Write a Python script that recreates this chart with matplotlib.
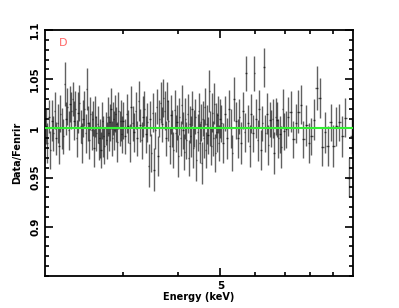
import numpy as np
import matplotlib.pyplot as plt
from matplotlib.ticker import FixedLocator, NullFormatter, FixedFormatter, MultipleLocator

# ============================================================
# DATA (ratio data / Fenrir model, grouped bins)
# ============================================================
# 2 - 3 keV
energy_a = [2.008, 2.024, 2.040, 2.056, 2.072, 2.088, 2.104, 2.120, 2.136, 2.152,
            2.168, 2.184, 2.200, 2.216, 2.232, 2.248, 2.264, 2.280, 2.296, 2.312,
            2.328, 2.344, 2.360, 2.376, 2.392, 2.408, 2.424, 2.440, 2.456, 2.472,
            2.488, 2.504, 2.520, 2.536, 2.552, 2.568, 2.584, 2.600, 2.616, 2.632,
            2.648, 2.664, 2.680, 2.696, 2.712, 2.728, 2.744, 2.760, 2.776, 2.792,
            2.808, 2.824, 2.840, 2.856, 2.872, 2.888, 2.904, 2.920, 2.936, 2.952,
            2.968, 2.984]
ratio_a = [1.002, 0.985, 1.012, 0.978, 1.008, 0.995, 1.018, 0.990, 1.005, 0.982,
           1.015, 1.000, 0.992, 1.045, 1.010, 1.022, 0.998, 1.025, 1.018, 1.030,
           1.008, 1.020, 0.990, 1.016, 1.026, 1.002, 0.985, 1.010, 1.020, 0.995,
           1.040, 1.005, 0.988, 1.015, 0.998, 1.010, 0.980, 1.012, 0.995, 1.004,
           0.985, 0.990, 0.978, 1.008, 0.992, 0.982, 1.000, 0.988, 1.012, 0.995,
           1.006, 1.020, 0.990, 1.010, 0.998, 1.015, 1.004, 0.986, 1.018, 1.000,
           1.008, 0.994]
err_a = [18, 20, 17, 19, 21, 18, 19, 17, 20, 18,
         19, 21, 18, 22, 17, 19, 20, 18, 19, 17,
         20, 18, 19, 21, 18, 17, 20, 19, 18, 20,
         21, 18, 19, 17, 20, 18, 19, 21, 18, 19,
         17, 20, 18, 19, 21, 18, 17, 19, 20, 18,
         19, 21, 18, 17, 20, 19, 18, 20, 19, 18,
         21, 19]

# 3 - 5 keV
energy_b = [3.0125, 3.0375, 3.0625, 3.0875, 3.1125, 3.1375, 3.1625, 3.1875, 3.2125, 3.2375,
            3.2625, 3.2875, 3.3125, 3.3375, 3.3625, 3.3875, 3.4125, 3.4375, 3.4625, 3.4875,
            3.5125, 3.5375, 3.5625, 3.5875, 3.6125, 3.6375, 3.6625, 3.6875, 3.7125, 3.7375,
            3.7625, 3.7875, 3.8125, 3.8375, 3.8625, 3.8875, 3.9125, 3.9375, 3.9625, 3.9875,
            4.0125, 4.0375, 4.0625, 4.0875, 4.1125, 4.1375, 4.1625, 4.1875, 4.2125, 4.2375,
            4.2625, 4.2875, 4.3125, 4.3375, 4.3625, 4.3875, 4.4125, 4.4375, 4.4625, 4.4875,
            4.5125, 4.5375, 4.5625, 4.5875, 4.6125, 4.6375, 4.6625, 4.6875, 4.7125, 4.7375,
            4.7625, 4.7875, 4.8125, 4.8375, 4.8625, 4.8875, 4.9125, 4.9375, 4.9625, 4.9875]
ratio_b = [1.008, 0.992, 1.015, 1.002, 0.985, 1.022, 1.005, 0.996, 1.018, 0.990,
           1.028, 1.003, 0.988, 1.012, 1.020, 0.994, 1.006, 0.962, 1.010, 0.975,
           1.016, 0.958, 0.998, 1.022, 0.972, 1.010, 1.026, 1.004, 1.031, 1.018,
           0.990, 1.028, 1.008, 0.982, 1.014, 1.000, 0.978, 1.019, 0.995, 1.006,
           0.972, 1.012, 0.990, 1.024, 0.998, 0.976, 1.010, 0.988, 1.015, 0.970,
           1.004, 0.992, 1.020, 0.980, 1.000, 1.012, 0.968, 0.996, 1.018, 0.985,
           1.006, 0.965, 1.010, 0.990, 1.022, 0.978, 1.004, 0.993, 1.038, 1.000,
           0.982, 1.016, 0.990, 1.025, 0.975, 1.008, 0.996, 1.014, 0.985, 1.010]
err_b = [19, 18, 20, 17, 19, 21, 18, 20, 19, 18,
         20, 17, 19, 21, 18, 19, 20, 22, 18, 19,
         20, 22, 19, 18, 20, 19, 21, 18, 19, 20,
         18, 19, 21, 18, 20, 19, 18, 20, 19, 18,
         21, 19, 18, 20, 19, 18, 21, 19, 20, 18,
         19, 21, 18, 20, 19, 18, 21, 19, 18, 20,
         19, 21, 18, 20, 19, 18, 20, 19, 21, 18,
         19, 20, 18, 21, 19, 18, 20, 19, 18, 20]

# 5 - 7 keV
energy_c = [5.025, 5.075, 5.125, 5.175, 5.225, 5.275, 5.325, 5.375, 5.425, 5.475,
            5.525, 5.575, 5.625, 5.675, 5.725, 5.775, 5.825, 5.875, 5.925, 5.975,
            6.025, 6.075, 6.125, 6.175, 6.225, 6.275, 6.325, 6.375, 6.425, 6.475,
            6.525, 6.575, 6.625, 6.675, 6.725, 6.775, 6.825, 6.875, 6.925, 6.975]
ratio_c = [1.005, 0.985, 1.015, 0.990, 1.020, 1.000, 0.975, 1.030, 1.008, 0.990,
           1.012, 0.985, 1.018, 0.996, 1.056, 1.005, 0.982, 1.015, 0.995, 1.056,
           1.010, 0.988, 1.020, 0.978, 1.005, 1.062, 0.995, 1.015, 0.983, 1.009,
           1.000, 1.010, 0.975, 1.012, 1.009, 0.990, 0.994, 0.981, 1.020, 0.997]
err_c = [19, 20, 18, 21, 19, 20, 18, 22, 19, 20,
         18, 21, 19, 20, 18, 19, 21, 20, 19, 18,
         20, 21, 19, 20, 18, 20, 19, 21, 20, 18,
         19, 20, 21, 19, 18, 20, 19, 21, 20, 19]

# 7 - 10 keV
energy_d = [7.04, 7.13, 7.22, 7.32, 7.42, 7.52, 7.62, 7.72, 7.83, 7.94,
            8.05, 8.16, 8.28, 8.40, 8.52, 8.64, 8.77, 8.90, 9.03, 9.17,
            9.31, 9.46, 9.61, 9.77, 9.93]
ratio_d = [0.999, 1.012, 1.017, 0.989, 1.005, 1.017, 1.024, 0.989, 1.003, 0.985,
           0.992, 1.009, 1.041, 1.031, 0.981, 0.996, 0.982, 1.006, 0.982, 1.002,
           1.006, 0.992, 1.011, 0.950, 0.992]
err_d = [19, 20, 21, 19, 20, 22, 20, 19, 21, 20,
         19, 21, 22, 20, 19, 21, 20, 19, 21, 20,
         19, 21, 20, 20, 18]

energy = np.array(energy_a + energy_b + energy_c + energy_d)
ratio = np.array(ratio_a + ratio_b + ratio_c + ratio_d)
ratio_err = np.array(err_a + err_b + err_c + err_d) / 1000.0

# bin half widths from neighbouring bin centres
edges = np.concatenate(([2.0], 0.5 * (energy[1:] + energy[:-1]), [10.0]))
x_lo = energy - edges[:-1]
x_hi = edges[1:] - energy

# ============================================================
# PLOT
# ============================================================
fig = plt.figure(figsize=(3.99, 3.08), dpi=100)
ax = fig.add_axes([45 / 399, 1 - 276 / 308, 308 / 399, 246 / 308])

ax.errorbar(energy, ratio, yerr=ratio_err, xerr=[x_lo, x_hi], fmt='none',
            ecolor='black', elinewidth=1.0, alpha=0.62, capsize=0, zorder=2)
ax.axhline(1.0, color='#33ee33', linewidth=1.5, zorder=5)

ax.set_xscale('log')
ax.set_xlim(2.0, 10.0)
ax.set_ylim(0.85, 1.1)

ax.xaxis.set_major_locator(FixedLocator([5]))
ax.xaxis.set_major_formatter(FixedFormatter(['5']))
ax.xaxis.set_minor_locator(FixedLocator([3, 4, 6, 7, 8, 9]))
ax.xaxis.set_minor_formatter(NullFormatter())

ax.yaxis.set_major_locator(FixedLocator([0.9, 0.95, 1.0, 1.05, 1.1]))
ax.yaxis.set_major_formatter(FixedFormatter(['0.9', '0.95', '1', '1.05', '1.1']))
ax.yaxis.set_minor_locator(MultipleLocator(0.01))

ax.tick_params(which='both', direction='in', top=True, right=True, width=1.2,
               labelsize=7.5)
ax.tick_params(which='major', length=6)
ax.tick_params(which='minor', length=3)
for lab in ax.get_yticklabels():
    lab.set_rotation(90)
    lab.set_va('center')
    lab.set_fontweight('bold')
for lab in ax.get_xticklabels():
    lab.set_fontweight('bold')

for spine in ax.spines.values():
    spine.set_linewidth(1.3)

ax.set_xlabel("Energy (keV)", fontsize=7, fontweight='bold', labelpad=1)
ax.set_ylabel("Data/Fenrir", fontsize=7, fontweight='bold', labelpad=6)

ax.text(0.058, 0.947, "D", transform=ax.transAxes, color='#ff6666',
        fontsize=8, ha='center', va='center')

plt.savefig("out.png", dpi=100)
